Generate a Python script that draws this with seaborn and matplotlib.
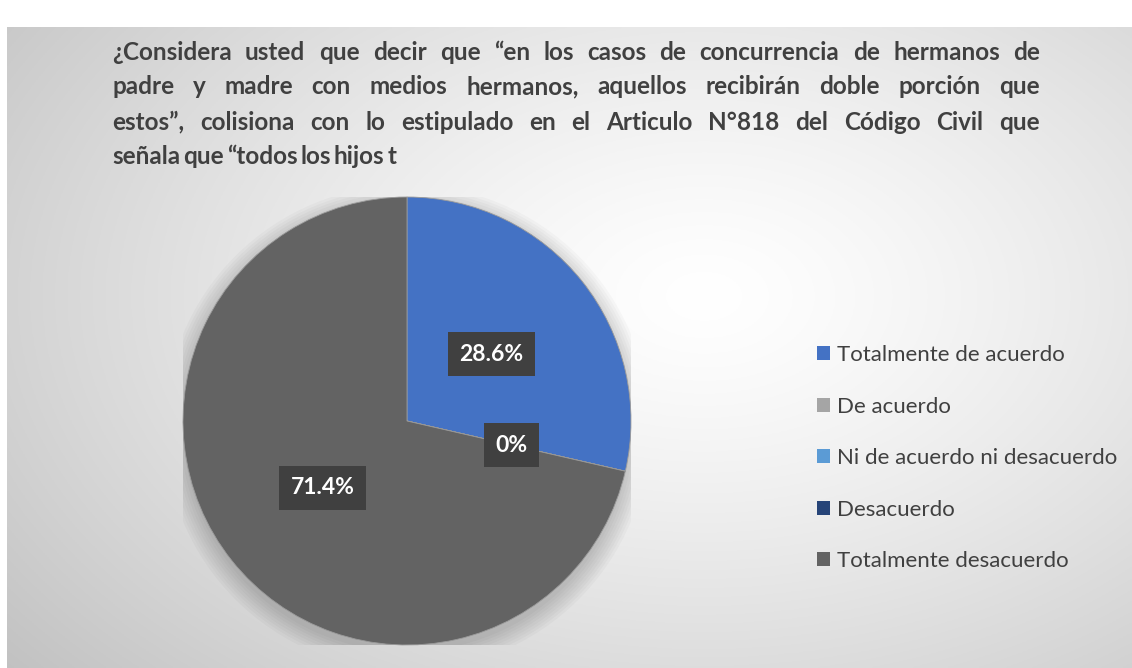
import numpy as np
import matplotlib
matplotlib.use("Agg")
import matplotlib.pyplot as plt
from matplotlib.patches import Patch
import seaborn as sns

# datos de la encuesta
categorias = ["Totalmente de acuerdo", "De acuerdo", "Ni de acuerdo ni desacuerdo",
              "Desacuerdo", "Totalmente desacuerdo"]
porcentajes = [28.6, 0, 0, 0, 71.4]
colores = ["#4472C4", "#A5A5A5", "#5B9BD5", "#264478", "#636363"]
titulo = [
    "¿Considera usted que decir que “en los casos de concurrencia de hermanos de",
    "padre y madre con medios hermanos, aquellos recibirán doble porción que",
    "estos”, colisiona con lo estipulado en el Articulo N°818 del Código Civil que",
    "señala que “todos los hijos t",
]

sns.set_theme(style="white")
plt.rcParams['font.family'] = ['Lato', 'DejaVu Sans']
palette = sns.color_palette(colores)

W, H = 1132, 668
fig = plt.figure(figsize=(W / 100, H / 100), dpi=100)
fig.patch.set_facecolor("white")

# fondo con degradado radial
bg = fig.add_axes([7 / W, 0, 1 - 7 / W, (H - 27) / H])
yy, xx = np.mgrid[0:1:300j, 0:1:500j]
d = np.sqrt(((xx - 0.62) / 0.75) ** 2 + ((yy - 0.42) / 0.85) ** 2)
g = 1.0 - 0.22 * np.clip(d, 0, 1.1) ** 1.3
bg.imshow(np.dstack([g, g, g]), aspect="auto", extent=[0, 1, 0, 1], origin="upper")
bg.set_axis_off()

# pastel
cx, cy, r = 407, 421, 224
ax = fig.add_axes([(cx - r) / W, (H - cy - r) / H, 2 * r / W, 2 * r / H])
ax.set_facecolor("none")

# sombra suave
for k in range(8):
    ax.add_patch(plt.Circle((0.0, -0.03), 1.0 + 0.012 * k, color="black",
                            alpha=0.022, lw=0, zorder=0))


def fmt(p):
    return "0%" if p < 0.05 else f"{p:.1f}%"


wedges, texts, autotexts = ax.pie(
    porcentajes, colors=palette, startangle=90, counterclock=False,
    autopct=fmt, pctdistance=0.48,
    wedgeprops=dict(linewidth=0.6, edgecolor="#9a9a9a"),
    textprops=dict(color="white", fontsize=16.5, fontweight="bold"))
for t in autotexts:
    t.set_bbox(dict(boxstyle="square,pad=0.5", facecolor="#404040", edgecolor="none"))
    t.set_zorder(5)
ax.set_xlim(-1, 1)
ax.set_ylim(-1, 1)
ax.set_aspect("equal")
ax.set_axis_off()

# leyenda
handles = [Patch(facecolor=c, edgecolor="none") for c in palette]
fig.legend(handles, categorias, loc="upper left", bbox_to_anchor=(817 / W, 1 - 345 / H),
           frameon=False, fontsize=16, labelcolor="#404040",
           handlelength=0.6, handleheight=0.6, handletextpad=0.3, labelspacing=1.42,
           borderaxespad=0, borderpad=0)

# titulo justificado
fig.canvas.draw()
renderer = fig.canvas.get_renderer()
left, right = 112, 1040
ys = [52, 87, 122, 157]
for i, linea in enumerate(titulo):
    palabras = linea.split(" ")
    objs = [fig.text(0, 0, p, fontsize=17.5, fontweight="bold", color="#404040",
                     va="center", ha="left") for p in palabras]
    anchos = [o.get_window_extent(renderer).width for o in objs]
    if i < len(titulo) - 1:
        gap = (right - left - sum(anchos)) / (len(palabras) - 1)
    else:
        gap = 3
    x = left
    for o, w in zip(objs, anchos):
        o.set_position((x / W, 1 - ys[i] / H))
        x += w + gap

fig.savefig("out.png", dpi=100)
